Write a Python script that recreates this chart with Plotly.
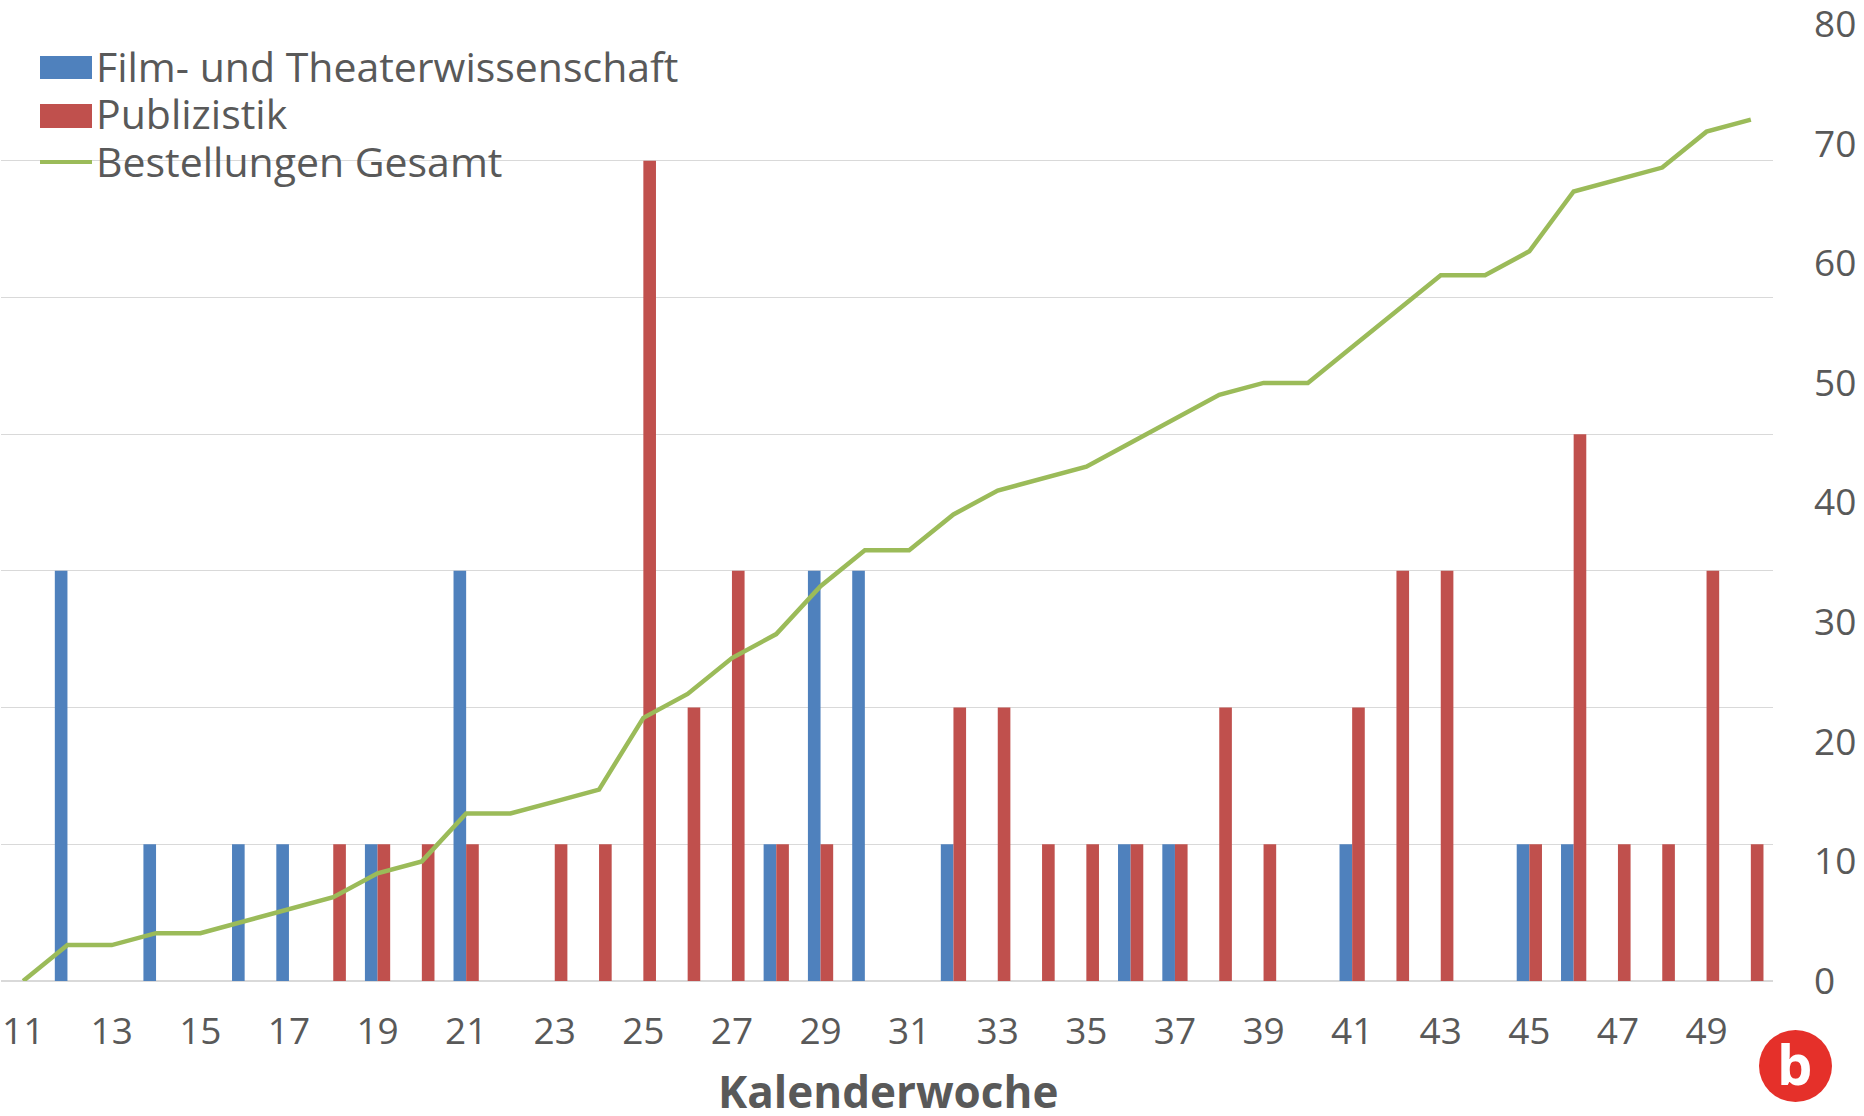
import plotly.graph_objects as go

weeks = list(range(11, 51))
film = [0,3,0,1,0,1,1,0,1,0,3,0,0,0,0,0,0,1,3,3,0,1,0,0,0,1,1,0,0,0,1,0,0,0,1,1,0,0,0,0]
publ = [0,0,0,0,0,0,0,1,1,1,1,0,1,1,6,2,3,1,1,0,0,2,2,1,1,1,1,2,1,0,2,3,3,0,1,4,1,1,3,1]
gesamt = [0,3,3,4,4,5,6,7,9,10,14,14,15,16,22,24,27,29,33,36,36,39,41,42,43,45,47,49,50,50,53,56,59,59,61,66,67,68,71,72]
names = ["Film- und Theaterwissenschaft", "Publizistik", "Bestellungen Gesamt"]
x_title = "Kalenderwoche"
x_ticks = list(range(11, 51, 2))
y2_ticks = list(range(0, 81, 10))

BLUE, RED, GREEN, GREY, GRID = "#4f81bd", "#c0504d", "#9bbb59", "#595959", "#d9d9d9"
FONT = "Open Sans"
L, R, T, B = 1, 1773, 24, 981

def px(v): return (v - L) / (R - L)
def py(v): return (B - v) / (B - T)

fig = go.Figure()
fig.add_bar(x=weeks, y=film, name=names[0], marker=dict(color=BLUE, line_width=0), yaxis="y")
fig.add_bar(x=weeks, y=publ, name=names[1], marker=dict(color=RED, line_width=0), yaxis="y")
fig.add_scatter(x=weeks, y=gesamt, name=names[2], mode="lines",
                line=dict(color=GREEN, width=4.5), yaxis="y2")

shapes = [
    dict(type="rect", xref="paper", yref="paper", x0=px(40), x1=px(92), y0=py(56), y1=py(79),
         fillcolor=BLUE, line_width=0),
    dict(type="rect", xref="paper", yref="paper", x0=px(40), x1=px(92), y0=py(104), y1=py(128),
         fillcolor=RED, line_width=0),
    dict(type="line", xref="paper", yref="paper", x0=px(40), x1=px(92), y0=py(162), y1=py(162),
         line=dict(color=GREEN, width=4)),
    dict(type="circle", xref="paper", yref="paper", x0=px(1759), x1=px(1832), y0=py(1030), y1=py(1102),
         fillcolor="#e5302a", line_width=0),
]
annotations = [
    dict(text=n, xref="paper", yref="paper", x=px(94), y=py(yy), xanchor="left", yanchor="middle",
         showarrow=False, font=dict(family=FONT, size=41, color=GREY))
    for n, yy in zip(names, [66, 113, 161])
]
annotations.append(dict(text="<b>b</b>", xref="paper", yref="paper", x=px(1795), y=py(1063),
                        xanchor="center", yanchor="middle", showarrow=False,
                        font=dict(family=FONT, size=56, color="white")))
annotations.append(dict(text=f"<b>{x_title}</b>", xref="paper", yref="paper", x=px(888), y=py(1091),
                        xanchor="center", yanchor="middle", showarrow=False,
                        font=dict(family=FONT, size=44, color=GREY)))

fig.update_layout(
    width=1864, height=1116, autosize=False,
    margin=dict(l=L, r=1864 - R, t=T, b=1116 - B, pad=0),
    paper_bgcolor="white", plot_bgcolor="white",
    barmode="group", bargap=0.43, bargroupgap=0, showlegend=False,
    font=dict(family=FONT, color=GREY),
    xaxis=dict(range=[10.5, 50.5], tickmode="array", tickvals=x_ticks, ticktext=[str(t) for t in x_ticks],
               showgrid=False, zeroline=False, showline=False, ticks="", ticklabelstandoff=25,
               automargin=False, ticklabeloverflow="allow", tickfont=dict(size=37, color=GREY)),
    yaxis=dict(range=[0, 7], dtick=1, showticklabels=False, showgrid=True, gridcolor=GRID, gridwidth=1,
               automargin=False, zeroline=True, zerolinecolor=GRID, zerolinewidth=2, ticks=""),
    yaxis2=dict(range=[0, 80], tickmode="array", tickvals=y2_ticks, overlaying="y", side="right",
                showgrid=False, zeroline=False, showline=False, ticks="", ticklabelstandoff=40,
                automargin=False, ticklabeloverflow="allow", tickfont=dict(size=37, color=GREY)),
    shapes=shapes, annotations=annotations,
)
fig.write_html("out.html", config={"displayModeBar": False},
               post_script="document.body.style.margin='0';")
